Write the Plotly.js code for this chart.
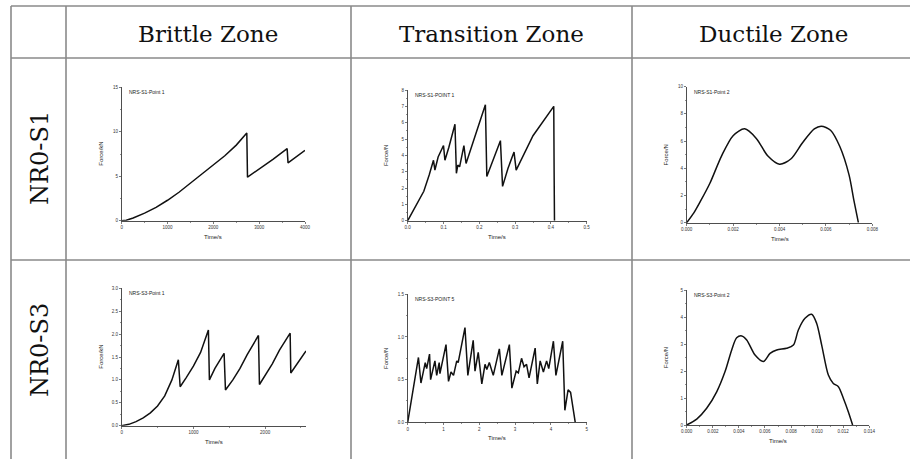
<!DOCTYPE html>
<html><head><meta charset="utf-8">
<script src="https://cdn.plot.ly/plotly-3.0.1.min.js"></script>
<style>html,body{margin:0;padding:0;background:#fff}#c{width:910px;height:459px}</style>
</head><body><div id="c"></div>
<script>
// ---- data ----
const zones = ["Brittle Zone", "Transition Zone", "Ductile Zone"];
const samples = ["NR0-S1", "NR0-S3"];
const panelLabels = ["NRS-S1-Point 1", "NRS-S1-POINT 1", "NRS-S1-Point 2", "NRS-S3-Point 1", "NRS-S3-POINT 5", "NRS-S3-Point 2"];
const yTitles = ["Force/kN", "Force/N", "Force/N", "Force/kN", "Force/N", "Force/N"];
const xTitle = "Time/s";

const t1 = [0,100,250,500,750,1000,1250,1500,1750,2000,2250,2500,2730,2745,3000,3300,3610,3630,4000];
const f1 = [0,0.05,0.3,0.85,1.5,2.3,3.2,4.2,5.2,6.2,7.3,8.5,9.85,4.9,5.8,6.9,8.1,6.5,7.9];

const t2 = [0,0.02,0.045,0.06,0.072,0.076,0.085,0.1,0.104,0.115,0.132,0.136,0.14,0.145,0.157,0.163,0.19,0.217,0.221,0.226,0.259,0.265,0.28,0.297,0.303,0.35,0.408,0.409,0.41];
const f2 = [0,0.8,1.8,2.8,3.7,3.1,3.9,4.6,3.7,4.5,5.9,2.9,3.4,3.3,4.6,3.5,5.3,7.1,2.7,3.0,4.9,2.1,3.2,4.2,3.1,5.2,7.0,3.0,0];

const t3 = [0,0.0003,0.0006,0.001,0.0015,0.002,0.0025,0.003,0.0035,0.004,0.0045,0.005,0.0055,0.0058,0.0062,0.0066,0.007,0.0072,0.0074];
const f3 = [0,0.7,1.6,2.9,4.9,6.4,6.9,6.2,4.9,4.3,4.7,5.9,6.9,7.1,6.8,5.6,3.5,1.7,0];

const t4 = [0,100,200,300,400,500,600,700,790,815,900,1000,1100,1209,1223,1300,1428,1447,1550,1650,1750,1907,1921,2000,2100,2200,2349,2358,2450,2570];
const f4 = [0,0.03,0.09,0.17,0.28,0.43,0.65,1.0,1.44,0.85,1.05,1.3,1.6,2.09,1.0,1.25,1.58,0.78,1.0,1.25,1.55,1.97,0.9,1.1,1.35,1.65,2.02,1.15,1.35,1.63];

const t5 = [0,0.30,0.37,0.49,0.53,0.61,0.64,0.76,0.81,0.88,0.90,1.07,1.14,1.21,1.28,1.37,1.41,1.60,1.68,1.83,1.88,1.97,2.07,2.16,2.21,2.28,2.39,2.56,2.63,2.84,2.91,3.03,3.09,3.18,3.25,3.32,3.39,3.56,3.62,3.70,3.79,3.88,3.94,4.07,4.14,4.33,4.39,4.48,4.55,4.68];
const f5 = [0,0.76,0.46,0.70,0.63,0.80,0.50,0.72,0.55,0.70,0.57,0.91,0.48,0.59,0.55,0.72,0.70,1.11,0.55,0.96,0.60,0.82,0.45,0.68,0.62,0.70,0.55,0.86,0.55,0.91,0.40,0.60,0.58,0.75,0.65,0.68,0.52,0.87,0.45,0.72,0.59,0.72,0.63,0.95,0.55,0.95,0.14,0.38,0.35,0];

const t6 = [0,0.00077,0.00153,0.0023,0.00294,0.00345,0.00383,0.00422,0.0046,0.00524,0.00588,0.00639,0.0069,0.00766,0.00818,0.00856,0.00907,0.00958,0.00996,0.01035,0.01086,0.01124,0.01163,0.01201,0.01239,0.01272];
const f6 = [0,0.22,0.62,1.23,1.98,2.78,3.23,3.30,3.15,2.59,2.35,2.65,2.78,2.84,2.96,3.52,3.95,4.10,3.77,2.96,1.85,1.54,1.42,0.99,0.49,0];

const xs = [t1,t2,t3,t4,t5,t6];
const ys = [f1,f2,f3,f4,f5,f6];

// ---- layout geometry (pixels) ----
const W = 910, H = 459;
const px = v => v / W, py = v => 1 - v / H;
const boxes = [
  [121.7, 305, 87.3, 220.7],
  [407.7, 586.7, 90, 220.7],
  [686.7, 872.3, 86.7, 222.7],
  [121.7, 306, 288.3, 425.7],
  [407.7, 586.7, 294.3, 422.3],
  [686.7, 869.3, 290, 425]
];
const xr = [[0,4000],[0,0.5],[0,0.008],[0,2570],[0,5],[0,0.014]];
const yr = [[0,15],[0,8],[0,10],[0,3],[0,1.5],[0,5]];
const xdt = [1000,0.1,0.002,1000,1,0.002];
const ydt = [5,1,2,0.5,0.5,1];
const xfmt = ["d",".1f",".3f","d","d",".3f"];
const yfmt = ["d","d","d",".1f",".1f","d"];
const smooth = [false,false,true,false,false,true];

const tickFont = {family: "Liberation Sans, Arial, sans-serif", size: 4.5, color: "#333"};
const layout = {
  width: W, height: H, margin: {l:0,r:0,t:0,b:0},
  paper_bgcolor: "#fff", plot_bgcolor: "rgba(0,0,0,0)",
  showlegend: false, annotations: [], shapes: []
};
const data = [];
for (let i = 0; i < 6; i++) {
  const s = i === 0 ? "" : String(i + 1);
  const b = boxes[i];
  layout["xaxis" + s] = {
    domain: [px(b[0]), px(b[1])], range: xr[i], anchor: "y" + s,
    showline: true, linecolor: "#222", linewidth: 0.8, mirror: false,
    showgrid: false, zeroline: false, ticks: "outside", ticklen: 2, tickwidth: 0.6, tickcolor: "#222",
    dtick: xdt[i], tick0: 0, tickformat: xfmt[i], tickfont: tickFont,
    minor: {dtick: xdt[i] / 2, ticks: "outside", ticklen: 1.2, tickwidth: 0.5, tickcolor: "#222"}
  };
  layout["yaxis" + s] = {
    domain: [py(b[3]), py(b[2])], range: yr[i], anchor: "x" + s,
    showline: true, linecolor: "#222", linewidth: 0.8, mirror: false,
    showgrid: false, zeroline: false, ticks: "outside", ticklen: 2, tickwidth: 0.6, tickcolor: "#222",
    dtick: ydt[i], tick0: 0, tickformat: yfmt[i], tickfont: tickFont,
    minor: {dtick: ydt[i] / 2, ticks: "outside", ticklen: 1.2, tickwidth: 0.5, tickcolor: "#222"}
  };
  data.push({
    x: xs[i], y: ys[i], xaxis: "x" + s, yaxis: "y" + s, type: "scatter", mode: "lines",
    line: {color: "#111", width: 1.5, shape: smooth[i] ? "spline" : "linear", smoothing: 0.8},
    hoverinfo: "skip"
  });
  layout.annotations.push({
    text: panelLabels[i], xref: "x" + s + " domain", yref: "y" + s + " domain",
    x: 0.03, y: 1.0, xanchor: "left", yanchor: "top", showarrow: false,
    font: {family: "Liberation Sans, Arial, sans-serif", size: 5, color: "#222"}
  });
  layout.annotations.push({
    text: xTitle, xref: "paper", yref: "paper",
    x: px((b[0] + b[1]) / 2), y: py(b[3] + 16), xanchor: "center", yanchor: "middle", showarrow: false,
    font: {family: "Liberation Sans, Arial, sans-serif", size: 6, color: "#222"}
  });
  layout.annotations.push({
    text: yTitles[i], xref: "paper", yref: "paper", textangle: -90,
    x: px(b[0] - 21), y: py((b[2] + b[3]) / 2), xanchor: "center", yanchor: "middle", showarrow: false,
    font: {family: "Liberation Sans, Arial, sans-serif", size: 6, color: "#222"}
  });
}

// ---- table ----
const lc = "#8a8a8a", lw = 1.6;
const hline = (y, x0, x1) => ({type: "line", xref: "paper", yref: "paper", x0: px(x0), x1: px(x1), y0: py(y), y1: py(y), line: {color: lc, width: lw}});
const vline = (x, y0, y1) => ({type: "line", xref: "paper", yref: "paper", x0: px(x), x1: px(x), y0: py(y0), y1: py(y1), line: {color: lc, width: lw}});
layout.shapes.push(hline(6, 11, 910), hline(58, 11, 910), hline(260, 11, 910));
layout.shapes.push(vline(11, 6, 459), vline(66, 6, 459), vline(351, 6, 459), vline(632, 6, 459));

const headerX = [208, 492, 773];
zones.forEach((z, k) => layout.annotations.push({
  text: z, xref: "paper", yref: "paper", x: px(headerX[k]), y: py(34), xanchor: "center", yanchor: "middle",
  showarrow: false, font: {family: "DejaVu Serif, serif", size: 23, color: "#111"}
}));
const rowY = [158, 350];
samples.forEach((s, k) => layout.annotations.push({
  text: s, xref: "paper", yref: "paper", x: px(40), y: py(rowY[k]), xanchor: "center", yanchor: "middle",
  textangle: -90, showarrow: false, font: {family: "DejaVu Serif, serif", size: 24, color: "#111"}
}));

Plotly.newPlot("c", data, layout, {staticPlot: true, displayModeBar: false});
</script></body></html>
